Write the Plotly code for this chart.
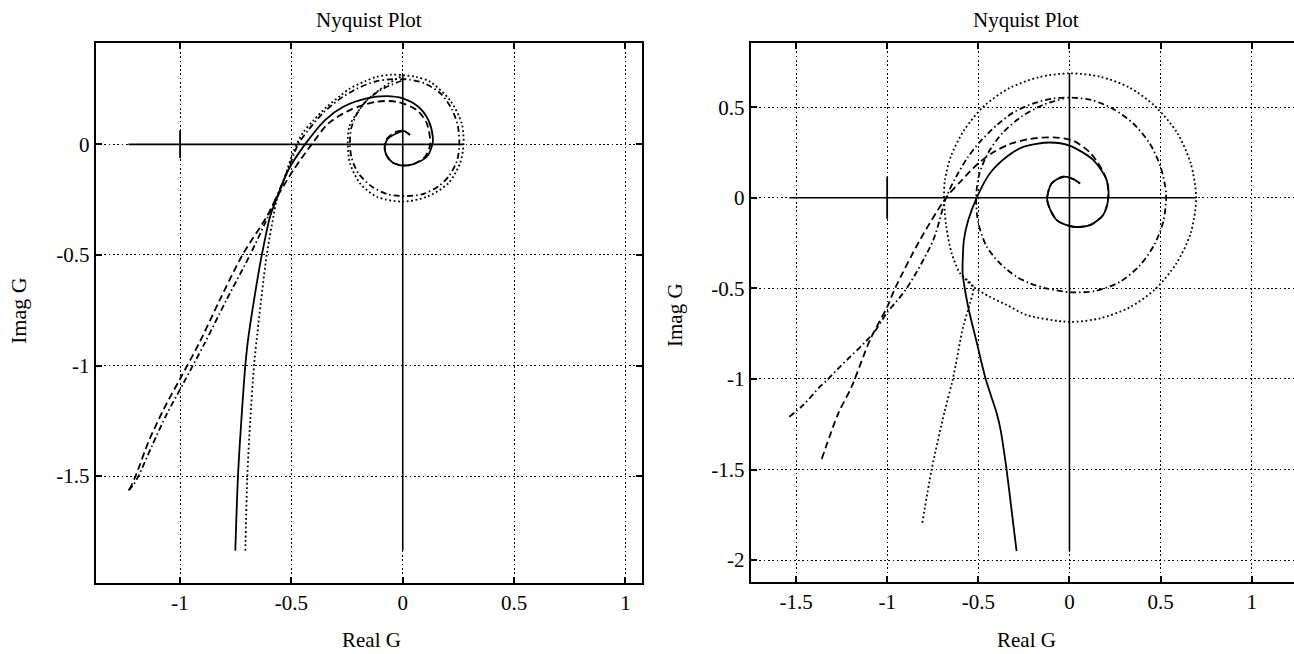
import plotly.graph_objects as go

# ---------------- data ----------------
# Left Nyquist plot
left_solid_x = [-0.752, -0.740, -0.725, -0.707, -0.695, -0.668, -0.633, -0.596, -0.569, -0.514, -0.439,
                -0.349, -0.267, -0.162, -0.072, 0.000, 0.070, 0.115, 0.135, 0.133, 0.108, 0.048, 0.000,
                -0.049, -0.079, -0.072, -0.027, 0.006, 0.033]
left_solid_y = [-1.837, -1.500, -1.250, -1.000, -0.885, -0.704, -0.500, -0.327, -0.252, -0.116, 0.000,
                0.110, 0.170, 0.208, 0.218, 0.208, 0.170, 0.110, 0.034, 0.000, -0.056, -0.089, -0.096,
                -0.079, -0.033, 0.019, 0.050, 0.060, 0.042]

left_dash_x = [-1.228, -1.200, -1.140, -1.075, -1.000, -0.915, -0.820, -0.720, -0.611, -0.573, -0.491,
               -0.409, -0.334, -0.237, -0.117, -0.027, 0.063, 0.108, 0.123, 0.100, 0.050, 0.000, -0.050,
               -0.080, -0.075, -0.035, 0.000, 0.030]
left_dash_y = [-1.562, -1.500, -1.340, -1.200, -1.060, -0.900, -0.700, -0.500, -0.327, -0.252, -0.116,
               0.000, 0.095, 0.155, 0.193, 0.193, 0.155, 0.095, 0.000, -0.056, -0.088, -0.095, -0.080,
               -0.035, 0.020, 0.055, 0.062, 0.045]

left_dashdot_x = [-1.232, -1.210, -1.187, -1.125, -1.060, -0.985, -0.890, -0.790, -0.686, -0.620, -0.573,
                  -0.510, -0.470, -0.420, -0.360, -0.290, -0.210, -0.120, -0.040, 0.030, 0.100, 0.170,
                  0.220, 0.248, 0.254, 0.245, 0.210, 0.160, 0.090, 0.010, -0.070, -0.140, -0.200,
                  -0.230, -0.237, -0.232, -0.210, -0.170, -0.110, -0.050, 0.000]
left_dashdot_y = [-1.565, -1.540, -1.500, -1.360, -1.220, -1.080, -0.900, -0.700, -0.500, -0.360, -0.252,
                  -0.100, 0.000, 0.070, 0.140, 0.200, 0.250, 0.285, 0.295, 0.293, 0.275, 0.230,
                  0.160, 0.080, 0.000, -0.070, -0.140, -0.190, -0.225, -0.234, -0.225, -0.190, -0.130,
                  -0.060, 0.000, 0.070, 0.130, 0.190, 0.240, 0.270, 0.290]

left_dot_x = [-0.707, -0.698, -0.685, -0.668, -0.658, -0.611, -0.581, -0.566, -0.530, -0.494, -0.450,
              -0.400, -0.341, -0.280, -0.237, -0.170, -0.117, -0.050, 0.000, 0.060, 0.123, 0.212, 0.265,
              0.273, 0.257, 0.205, 0.108, 0.000, -0.117, -0.192, -0.237, -0.247, -0.240, -0.207,
              -0.160, -0.100, -0.040, 0.000]
left_dot_y = [-1.837, -1.500, -1.250, -1.000, -0.900, -0.500, -0.327, -0.252, -0.150, -0.040, 0.050,
              0.110, 0.170, 0.220, 0.253, 0.285, 0.306, 0.315, 0.313, 0.305, 0.283, 0.200, 0.095,
              0.000, -0.086, -0.176, -0.237, -0.259, -0.237, -0.176, -0.086, 0.000, 0.080, 0.140,
              0.200, 0.250, 0.290, 0.310]

# Right Nyquist plot
right_solid_x = [-0.290, -0.318, -0.345, -0.363, -0.378, -0.399, -0.428, -0.458, -0.485, -0.508, -0.533,
                 -0.556, -0.573, -0.586, -0.585, -0.579, -0.555, -0.509, -0.436, -0.344, -0.253, -0.107,
                 0.000, 0.131, 0.204, 0.213, 0.185, 0.112, 0.021, -0.070, -0.122, -0.098, -0.034,
                 0.021, 0.058]
right_solid_y = [-1.950, -1.720, -1.500, -1.374, -1.280, -1.190, -1.100, -1.006, -0.900, -0.800, -0.700,
                 -0.600, -0.509, -0.417, -0.330, -0.233, -0.123, 0.000, 0.135, 0.226, 0.281, 0.305,
                 0.288, 0.208, 0.098, 0.000, -0.095, -0.151, -0.160, -0.123, -0.013, 0.079, 0.116,
                 0.103, 0.079]

right_dash_x = [-1.359, -1.268, -1.195, -1.094, -0.999, -0.957, -0.820, -0.677, -0.590, -0.500, -0.420,
                -0.330, -0.217, -0.089, 0.021, 0.112, 0.170, 0.204, 0.213, 0.185, 0.112, 0.021, -0.070,
                -0.122, -0.098, -0.034, 0.021, 0.058]
right_dash_y = [-1.442, -1.190, -1.043, -0.785, -0.601, -0.500, -0.233, 0.000, 0.098, 0.190, 0.250,
                0.295, 0.325, 0.333, 0.315, 0.250, 0.170, 0.098, 0.000, -0.095, -0.151, -0.160, -0.123,
                -0.013, 0.079, 0.116, 0.103, 0.079]

right_dashdot_x = [-1.537, -1.460, -1.369, -1.329, -1.259, -1.076, -1.003, -0.893, -0.747, -0.677, -0.625,
                   -0.560, -0.490, -0.400, -0.310, -0.200, -0.090, 0.010, 0.120, 0.240, 0.350, 0.440,
                   0.500, 0.530, 0.515, 0.465, 0.385, 0.275, 0.140, 0.010, -0.120, -0.217, -0.290,
                   -0.381, -0.454, -0.500, -0.512, -0.495, -0.445, -0.365, -0.260, -0.140, -0.030]
right_dashdot_y = [-1.209, -1.144, -1.043, -1.006, -0.933, -0.748, -0.638, -0.500, -0.233, 0.000, 0.110,
                   0.220, 0.310, 0.400, 0.470, 0.520, 0.548, 0.553, 0.540, 0.490, 0.410, 0.300,
                   0.170, 0.020, -0.130, -0.260, -0.375, -0.465, -0.515, -0.522, -0.502, -0.472, -0.436,
                   -0.362, -0.270, -0.140, 0.000, 0.130, 0.250, 0.360, 0.450, 0.515, 0.548]

right_dot_x = [-0.807, -0.756, -0.685, -0.641, -0.583, -0.546, -0.528, -0.600, -0.646, -0.677, -0.688,
               -0.683, -0.650, -0.580, -0.470, -0.330, -0.170, 0.000, 0.170, 0.330, 0.470, 0.590,
               0.665, 0.695, 0.665, 0.585, 0.470, 0.330, 0.170, 0.000, -0.235, -0.344, -0.440,
               -0.528, -0.600]
right_dot_y = [-1.794, -1.500, -1.180, -1.006, -0.712, -0.583, -0.491, -0.417, -0.307, -0.150, 0.000,
               0.100, 0.230, 0.370, 0.505, 0.605, 0.665, 0.687, 0.668, 0.608, 0.505, 0.360,
               0.190, 0.000, -0.195, -0.365, -0.505, -0.605, -0.665, -0.685, -0.647, -0.592, -0.545,
               -0.491, -0.417]

critical_point = (-1.0, 0.0)

left_xticks = [-1, -0.5, 0, 0.5, 1]
left_xticklabels = ["-1", "-0.5", "0", "0.5", "1"]
left_yticks = [-1.5, -1, -0.5, 0]
left_yticklabels = ["-1.5", "-1", "-0.5", "0"]
right_xticks = [-1.5, -1, -0.5, 0, 0.5, 1]
right_xticklabels = ["-1.5", "-1", "-0.5", "0", "0.5", "1"]
right_yticks = [-2, -1.5, -1, -0.5, 0, 0.5]
right_yticklabels = ["-2", "-1.5", "-1", "-0.5", "0", "0.5"]

title_text = "Nyquist Plot"
xlabel_text = "Real G"
ylabel_text = "Imag G"

# ---------------- figure ----------------
W, H = 1294, 654
FONT = "Liberation Serif"
BLACK = "#000000"


def fx(p):
    return p / W


def fy(p):
    return 1 - p / H


fig = go.Figure()

styles = {
    "solid": dict(color=BLACK, width=1.8, dash="solid"),
    "dash": dict(color=BLACK, width=1.8, dash="7px,4px"),
    "dashdot": dict(color=BLACK, width=1.8, dash="6px,3px,1.5px,3px"),
    "dot": dict(color=BLACK, width=1.8, dash="1.8px,2.6px"),
}


def add_panel(series, xa, ya, marker_size):
    allx = [v for sx, sy, _ in series for v in sx]
    ally = [v for sx, sy, _ in series for v in sy]
    # real / imaginary axis lines spanning the data extent (MATLAB nyquist style)
    fig.add_trace(go.Scatter(x=[min(allx), max(allx)], y=[0, 0], mode="lines",
                             line=dict(color=BLACK, width=1.6), xaxis=xa, yaxis=ya,
                             showlegend=False, hoverinfo="skip"))
    fig.add_trace(go.Scatter(x=[0, 0], y=[min(ally), max(ally)], mode="lines",
                             line=dict(color=BLACK, width=1.6), xaxis=xa, yaxis=ya,
                             showlegend=False, hoverinfo="skip"))
    fig.add_trace(go.Scatter(x=[critical_point[0]], y=[critical_point[1]], mode="markers",
                             marker=dict(symbol="line-ns", size=marker_size,
                                         line=dict(color=BLACK, width=1.8)),
                             xaxis=xa, yaxis=ya, showlegend=False, hoverinfo="skip"))
    for sx, sy, st in series:
        fig.add_trace(go.Scatter(x=sx, y=sy, mode="lines",
                                 line=dict(shape="spline", smoothing=0.8, **styles[st]),
                                 xaxis=xa, yaxis=ya, showlegend=False, hoverinfo="skip"))


add_panel([(left_solid_x, left_solid_y, "solid"),
           (left_dash_x, left_dash_y, "dash"),
           (left_dashdot_x, left_dashdot_y, "dashdot"),
           (left_dot_x, left_dot_y, "dot")], "x", "y", 20)
add_panel([(right_solid_x, right_solid_y, "solid"),
           (right_dash_x, right_dash_y, "dash"),
           (right_dashdot_x, right_dashdot_y, "dashdot"),
           (right_dot_x, right_dot_y, "dot")], "x2", "y2", 30)

axis_common = dict(
    showgrid=True, gridcolor=BLACK, gridwidth=1.3, griddash="1.7px,2.6px",
    zeroline=False, showline=True, linecolor=BLACK, linewidth=2,
    ticks="inside", ticklen=6, tickwidth=1.5, tickcolor=BLACK,
    tickfont=dict(family=FONT, size=21, color=BLACK),
    tickmode="array", fixedrange=True,
)

fig.update_layout(
    width=W, height=H,
    margin=dict(l=0, r=0, t=0, b=0),
    paper_bgcolor="white", plot_bgcolor="white",
    showlegend=False,
    xaxis=dict(domain=[fx(95.7), fx(641.9)], range=[-1.379, 1.074], anchor="y",
               tickvals=left_xticks, ticktext=left_xticklabels, mirror="ticks", **axis_common),
    yaxis=dict(domain=[fy(582.7), fy(43.3)], range=[-1.982, 0.457], anchor="x",
               tickvals=left_yticks, ticktext=left_yticklabels, mirror="ticks", **axis_common),
    xaxis2=dict(domain=[fx(750.8), 1.0], range=[-1.748, 1.2317], anchor="y2",
                tickvals=right_xticks, ticktext=right_xticklabels, mirror="ticks", **axis_common),
    yaxis2=dict(domain=[fy(582.0), fy(42.7)], range=[-2.121, 0.856], anchor="x2",
                tickvals=right_yticks, ticktext=right_yticklabels, mirror=False, **axis_common),
)

ann_font = dict(family=FONT, size=21, color=BLACK)
annotations = [
    dict(text=title_text, x=fx(369), y=fy(20)),
    dict(text=title_text, x=fx(1026), y=fy(20)),
    dict(text=xlabel_text, x=fx(371), y=fy(640)),
    dict(text=xlabel_text, x=fx(1026), y=fy(640)),
    dict(text=ylabel_text, x=fx(18), y=fy(311), textangle=-90, font=dict(family=FONT, size=22, color=BLACK)),
    dict(text=ylabel_text, x=fx(675), y=fy(315), textangle=-90),
]
for a in annotations:
    a.setdefault("font", ann_font)
    fig.add_annotation(xref="paper", yref="paper", xanchor="center", yanchor="middle",
                       showarrow=False, **a)

fig.write_html("out.html", config={"displayModeBar": False},
               post_script="document.body.style.margin='0';document.body.style.overflow='hidden';")
